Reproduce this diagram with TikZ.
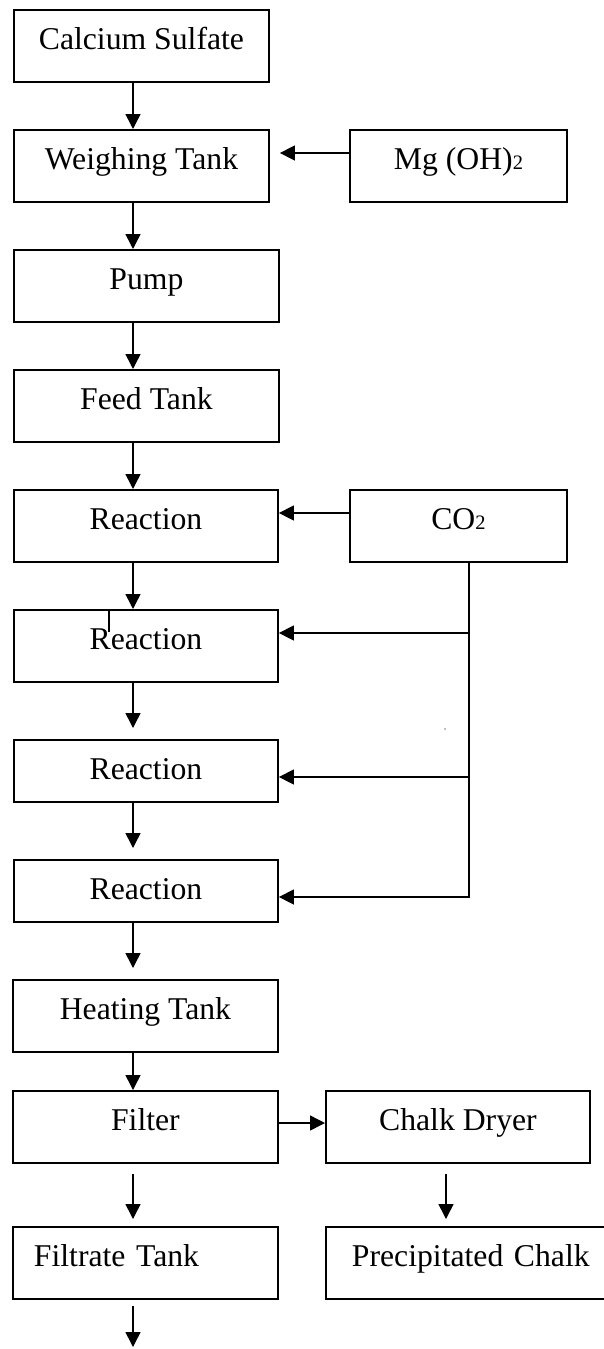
\documentclass[tikz,border=0pt]{standalone}
\usepackage{fontspec}
\setmainfont{Liberation Serif}
\usetikzlibrary{arrows.meta}
\newcommand\smalltwo{{\fontsize{20.5}{20}\selectfont 2}}
\begin{document}
\begin{tikzpicture}[x=1pt,y=-1pt,
  box/.style={draw, line width=1.9pt, inner sep=0pt, anchor=north west,
    text height=40pt, text depth=32pt, font=\fontsize{31.7}{38}\selectfont},
  shortbox/.style={box, text depth=22pt},
  arr/.style={line width=1.5pt, -{Triangle[length=15pt,width=15pt]}},
  plain/.style={line width=1.5pt}]
\clip (0,0) rectangle (604,1349);
\useasboundingbox (0,0) rectangle (604,1349);
% column coordinates
\coordinate (colx) at (133,0);
\coordinate (dcol) at (446,0);
\coordinate (trunk) at (469,0);
\coordinate (tickx) at (109,0);
\coordinate (mgy) at (0,153);
\coordinate (c0y) at (0,513);
\coordinate (b1y) at (0,633);
\coordinate (b2y) at (0,777);
\coordinate (b3y) at (0,897);
\coordinate (fy) at (0,1123);
\coordinate (out) at (133,1347);
% boxes
\node[box, minimum width=255pt] (cal) at (13,9) {Calcium Sulfate};
\node[box, minimum width=255pt] (wt) at (13,129) {Weighing Tank};
\node[box, minimum width=217pt] (mg) at (349,129) {Mg (OH)\smalltwo};
\node[box, minimum width=265pt] (pump) at (13,249) {Pump};
\node[box, minimum width=265pt] (feed) at (13,369) {Feed Tank};
\node[box, minimum width=264pt] (r1) at (13,489) {Reaction};
\node[box, minimum width=217pt] (co2) at (349,489) {CO\smalltwo};
\node[box, minimum width=264pt] (r2) at (13,609) {Reaction};
\node[shortbox, minimum width=264pt] (r3) at (13,739) {Reaction};
\node[shortbox, minimum width=264pt] (r4) at (13,859) {Reaction};
\node[box, minimum width=265pt] (heat) at (12,979) {Heating Tank};
\node[box, minimum width=265pt] (filter) at (12,1090) {Filter};
\node[box, minimum width=264pt] (dryer) at (325,1090) {Chalk Dryer};
\node[box, minimum width=265pt, text width=265pt, align=left] (filtrate) at (12,1226) {\hspace*{21pt}Filtrate Tank};
\node[box, minimum width=285pt, text width=285pt, align=left] (precip) at (325,1226) {\hspace*{26pt}Precipitated Chalk};
% main column
\draw[arr] (cal.south -| colx) -- (wt.north -| colx);
\draw[arr] (wt.south -| colx) -- (pump.north -| colx);
\draw[arr] (pump.south -| colx) -- (feed.north -| colx);
\draw[arr] (feed.south -| colx) -- (r1.north -| colx);
\draw[arr] (r1.south -| colx) -- (r2.north -| colx);
\draw[arr] (r2.south -| colx) -- ([yshift=11pt]r3.north -| colx);
\draw[arr] (r3.south -| colx) -- ([yshift=11pt]r4.north -| colx);
\draw[arr] (r4.south -| colx) -- ([yshift=11pt]heat.north -| colx);
\draw[arr] (heat.south -| colx) -- (filter.north -| colx);
\draw[arr] ([yshift=-10pt]filter.south -| colx) -- ([yshift=7pt]filtrate.north -| colx);
\draw[arr] ([yshift=-6pt]filtrate.south -| colx) -- (out);
% side feeds
\draw[arr] (mg.west |- mgy) -- ([xshift=10pt]wt.east |- mgy);
\draw[arr] (co2.west |- c0y) -- (r1.east |- c0y);
\draw[arr] (co2.south -| trunk) |- (r4.east |- b3y);
\draw[arr] (trunk |- b1y) -- (r2.east |- b1y);
\draw[arr] (trunk |- b2y) -- (r3.east |- b2y);
% product line
\draw[arr] (filter.east |- fy) -- (dryer.west |- fy);
\draw[arr] ([yshift=-10pt]dryer.south -| dcol) -- ([yshift=7pt]precip.north -| dcol);
% small marks
\draw[plain] (r2.north -| tickx) -- ++(0,23);
\fill[gray] (445,729) circle (0.8pt);
\end{tikzpicture}
\end{document}
